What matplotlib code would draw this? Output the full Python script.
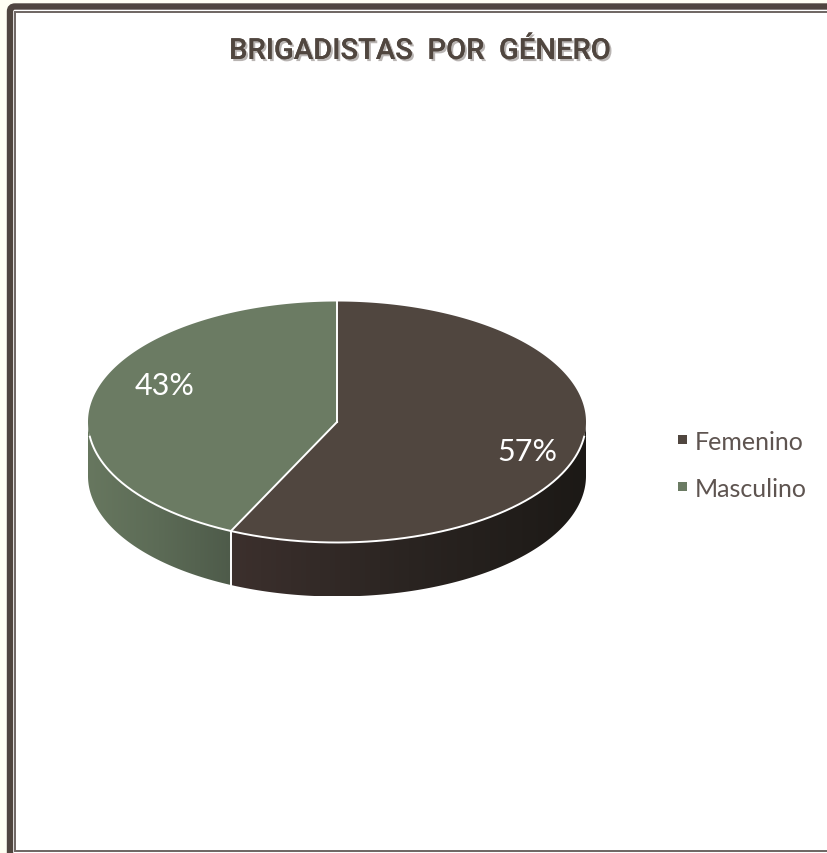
import numpy as np
import matplotlib
matplotlib.use('Agg')
import matplotlib.pyplot as plt
from matplotlib.patches import Polygon, Rectangle, FancyBboxPatch
import matplotlib.patheffects as pe

title = 'BRIGADISTAS  POR  GÉNERO'
categories = ['Femenino', 'Masculino']
values = [57, 43]
top_colors = ['#50463F', '#6B7B63']
side_colors = [['#3C302D', '#2A2421', '#1C1916'], ['#67775F', '#5C6B56', '#4E5B4A']]

W, H = 828, 854
cx, cy, a, b = 337, 423, 249, 120.5
depth = 54


def ell(t):
    # t is degrees clockwise from 12 o'clock
    r = np.radians(t)
    return cx + a * np.sin(r), cy - b * np.cos(r)


fig = plt.figure(figsize=(W / 100, H / 100), dpi=100, facecolor='#FFFFF3')
ax = fig.add_axes([0, 0, 1, 1])
ax.set_xlim(0, W)
ax.set_ylim(H, 0)
ax.axis('off')

# frame
ax.add_patch(FancyBboxPatch((10, 7.5), 900, 900, boxstyle='round,pad=0,rounding_size=5',
                            fc='white', ec='#50463F', lw=4.6, zorder=1))
ax.add_patch(Rectangle((15.5, 13), 900, 838.5, fc='white', ec='#6E6562', lw=1.4, zorder=2))

# slices
total = sum(values)
ends = np.cumsum(values) / total * 360
starts = np.concatenate([[0], ends[:-1]])
for s, e, col, side in zip(starts, ends, top_colors, side_colors):
    # side wall, only the part facing the viewer (90..270 deg)
    t = np.linspace(max(s, 90), min(e, 270), 200)
    x, y = ell(t)
    pts = np.r_[np.c_[x, y], np.c_[x[::-1], y[::-1] + depth]]
    wall = Polygon(pts, closed=True, fc='none', ec='none', zorder=3)
    ax.add_patch(wall)
    cmap = matplotlib.colors.LinearSegmentedColormap.from_list('w', side)
    grad = np.linspace(0, 1, 256).reshape(1, -1)
    im = ax.imshow(grad, cmap=cmap, extent=[x.min(), x.max(), y.max() + depth, y.min()],
                   aspect='auto', zorder=3)
    im.set_clip_path(wall)
    # top surface
    t = np.linspace(s, e, 300)
    x, y = ell(t)
    ax.add_patch(Polygon(np.r_[[[cx, cy]], np.c_[x, y]], closed=True, fc=col, ec='none', zorder=4))

ax.set_xlim(0, W)
ax.set_ylim(H, 0)

# white edges: slice borders, front rim and the seam on the wall
for e in ends:
    ex, ey = ell(e)
    ax.plot([cx, ex], [cy, ey], color='white', lw=1.4, zorder=5)
t = np.linspace(97, 263, 300)
x, y = ell(t)
ax.plot(x, y, color='white', lw=1.4, zorder=5)
sx, sy = ell(ends[0])
ax.plot([sx, sx], [sy, sy + depth], color='white', lw=1.4, zorder=5)

ax.text(420, 52, title, ha='center', va='center', fontsize=21, weight='medium',
        family=['Roboto', 'Lato'], color='#50463F', zorder=6,
        path_effects=[pe.withSimplePatchShadow(offset=(1.5, -1.5), shadow_rgbFace='#8A8280', alpha=0.6),
                      pe.Normal()])

label_pos = [(527, 452), (165, 386)]
for v, (lx, ly) in zip(values, label_pos):
    ax.text(lx, ly, '%d%%' % v, ha='center', va='center', fontsize=22, family='Lato',
            color='white', zorder=6)

legend_y = [440, 487]
for name, col, ly in zip(categories, top_colors, legend_y):
    ax.add_patch(Rectangle((678.5, ly - 4.5), 9, 9, fc=col, ec='none', zorder=6))
    ax.text(695, ly + 3, name, ha='left', va='center', fontsize=18, family='Lato',
            color='#5E5450', zorder=6)

fig.savefig('out.png', dpi=100, facecolor=fig.get_facecolor())
